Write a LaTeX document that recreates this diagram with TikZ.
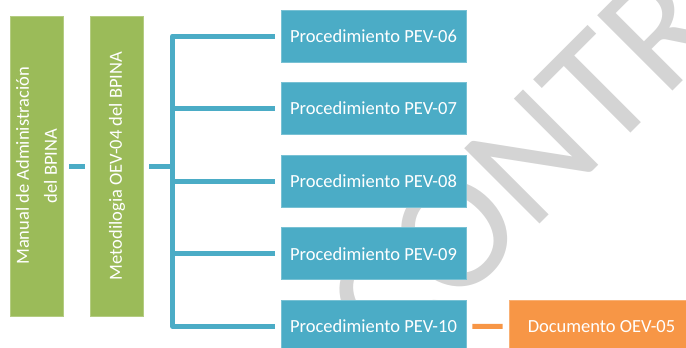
\documentclass[tikz,border=0pt]{standalone}
\usepackage{fontspec}
\setmainfont{Carlito}
\definecolor{sagreen}{HTML}{9BBB59}
\definecolor{sablue}{HTML}{4BACC6}
\definecolor{saorange}{HTML}{F79646}
\definecolor{wmgray}{HTML}{D4D4D4}

\begin{document}
\begin{tikzpicture}[x=1pt,y=-1pt,
  box/.style={fill=#1, draw=#1!75!white, line width=0.8pt, text=white,
    inner sep=0pt, font=\fontsize{18.5}{28}\selectfont},
  greenbox/.style={box=sagreen, rotate=90, align=center,
    minimum width=300pt, minimum height=53pt},
  pevbox/.style={box=sablue, minimum width=185pt, minimum height=52pt},
  docbox/.style={box=saorange, minimum width=185pt, minimum height=52pt},
  link/.style={line width=5pt, draw=sablue, line join=round},
  wmark/.style={text=wmgray, inner sep=0pt, font=\fontsize{166}{166}\selectfont}]
  \useasboundingbox (0,0) rectangle (686,348);
  \clip (0,0) rectangle (686,348);

  % watermark behind everything
  \node[wmark, anchor=base west, rotate=45] (wm) at (392,372) {CONTROLADA};

  \node[greenbox] (manual) at (36.5,166) {Manual de Administración\\del BPINA};
  \node[greenbox] (metod) at (117,166) {Metodilogia OEV-04 del BPINA};
  \foreach \n [count=\i from 0] in {06,07,08,09,10}
    \node[pevbox] (pev\n) at (373.5,{36+72.6*\i}) {Procedimiento PEV-\n};
  \node[docbox] (doc) at (601.5,326.4) {Documento OEV-05};

  \coordinate (brk) at (172.5,166);
  \draw[link, shorten <=5.5pt, shorten >=5.5pt] (manual) -- (metod);
  \draw[link, shorten <=5.5pt] (metod.south) -- (brk);
  \draw[link] ([xshift=-6pt]pev06.west) -| (brk) |- ([xshift=-6pt]pev10.west);
  \foreach \n in {07,08,09}
    \draw[link, shorten >=6pt] (pev\n.west -| brk) -- (pev\n.west);
  \draw[link, saorange, shorten <=6pt, shorten >=6pt] (pev10) -- (doc);
\end{tikzpicture}
\end{document}
